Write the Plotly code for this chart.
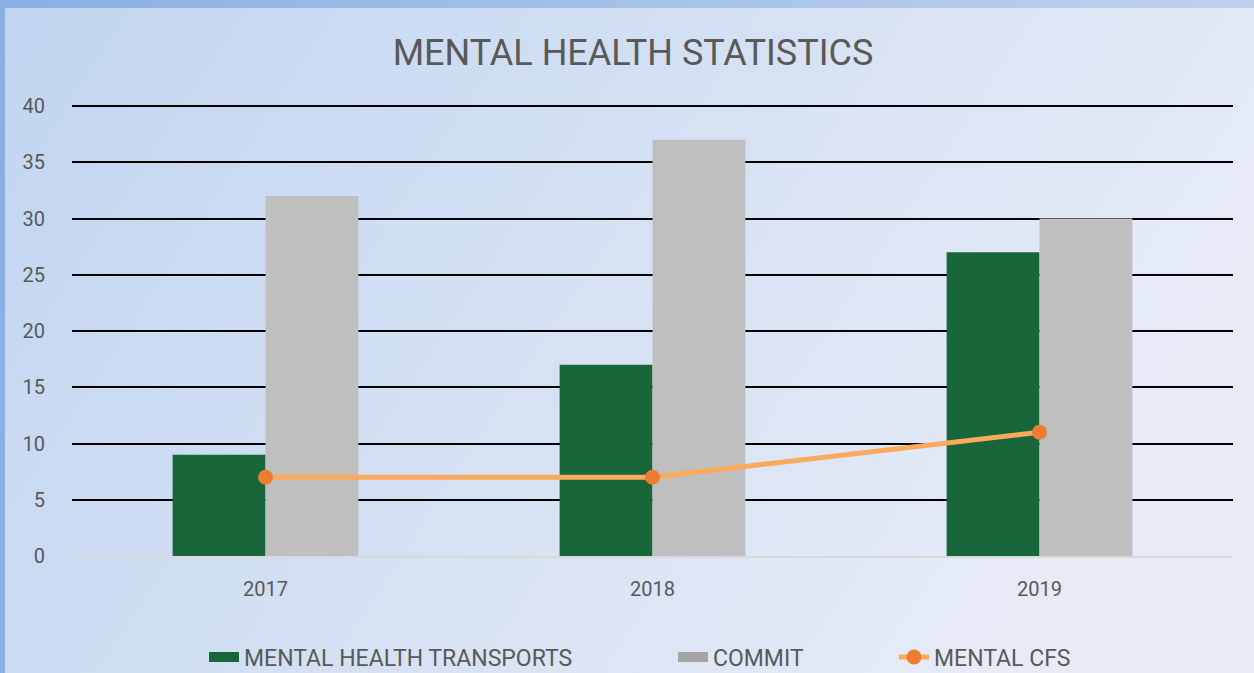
import base64
import plotly.graph_objects as go

years = ["2017", "2018", "2019"]
transports = [9, 17, 27]
commit = [32, 37, 30]
mental_cfs = [7, 7, 11]

W, H = 1254, 673
L, R, T, B = 72, 21, 105, 117
pw, ph = W - L - R, H - T - B

svg = f'''<svg xmlns="http://www.w3.org/2000/svg" width="{W}" height="{H}" viewBox="0 0 {W} {H}" preserveAspectRatio="none">
<defs>
<linearGradient id="o" x1="0" y1="0" x2="1" y2="0">
<stop offset="0" stop-color="#89afe3"/><stop offset="1" stop-color="#bfd2ec"/></linearGradient>
<linearGradient id="i" x1="0" y1="0" x2="1" y2="0.35">
<stop offset="0" stop-color="#c1d5f0"/><stop offset="0.5" stop-color="#d3e0f3"/><stop offset="1" stop-color="#e6ebf6"/></linearGradient>
</defs>
<rect x="0" y="0" width="{W}" height="{H}" fill="url(#o)"/>
<rect x="5" y="8" width="{W-5}" height="{H-8}" fill="url(#i)"/>
</svg>'''
src = "data:image/svg+xml;base64," + base64.b64encode(svg.encode()).decode()

font = "Roboto"
grey_txt = "#595959"
green = "#19663a"
grey_bar = "#bfbfbf"

fig = go.Figure()
fig.add_trace(go.Bar(x=years, y=transports, name="MENTAL HEALTH TRANSPORTS",
                     marker=dict(color=green, line=dict(width=0)),
                     showlegend=False, legendgroup="t"))
fig.add_trace(go.Bar(x=years, y=commit, name="COMMIT",
                     marker=dict(color=grey_bar, line=dict(width=0)),
                     showlegend=False, legendgroup="c"))
fig.add_trace(go.Scatter(x=years, y=mental_cfs, name="MENTAL CFS", mode="lines+markers",
                         line=dict(color="#fba95a", width=5),
                         marker=dict(color="#ed7d31", size=15),
                         legend="legend3"))
# legend entries (rectangular swatches like the original)
fig.add_trace(go.Scatter(x=[None], y=[None], name="MENTAL HEALTH TRANSPORTS", mode="lines",
                         line=dict(color=green, width=14), legendgroup="t", legend="legend"))
fig.add_trace(go.Scatter(x=[None], y=[None], name="COMMIT", mode="lines",
                         line=dict(color="#a5a5a5", width=14), legendgroup="c", legend="legend2"))

leg_y = -(657 - 556) / ph


def leg(text_x):
    return dict(orientation="h", x=(text_x - 40 - L) / pw, xanchor="left",
                y=leg_y, yanchor="middle",
                font=dict(size=23, color=grey_txt, family=font),
                bgcolor="rgba(0,0,0,0)")


fig.update_layout(
    width=W, height=H,
    margin=dict(l=L, r=R, t=T, b=B, autoexpand=False),
    paper_bgcolor="#c9daf1",
    plot_bgcolor="rgba(0,0,0,0)",
    barmode="group", bargap=0.52, bargroupgap=0,
    title=dict(text="MENTAL HEALTH STATISTICS", x=633 / W, xanchor="center",
               y=1 - 52 / H, yanchor="middle",
               font=dict(family=font, size=36, color=grey_txt)),
    font=dict(family=font, color=grey_txt),
    showlegend=True,
    legend=leg(244),
    legend2=leg(713),
    legend3=leg(934),
    images=[dict(source=src, xref="paper", yref="paper",
                 x=-L / pw, y=1 + T / ph, sizex=W / pw, sizey=H / ph,
                 xanchor="left", yanchor="top", sizing="stretch", layer="below")],
    xaxis=dict(showgrid=False, showline=True, linecolor="#d9d9d9", linewidth=2,
               ticks="outside", ticklen=14, tickcolor="rgba(0,0,0,0)",
               tickfont=dict(size=20, color=grey_txt), zeroline=False),
    yaxis=dict(range=[0, 40.1], tickvals=[0, 5, 10, 15, 20, 25, 30, 35, 40],
               showgrid=True, gridcolor="#000000", gridwidth=2,
               zeroline=False, showline=False,
               ticks="outside", ticklen=22, tickcolor="rgba(0,0,0,0)",
               tickfont=dict(size=20, color=grey_txt)),
)

fig.write_html("out.html", config={"displayModeBar": False},
               post_script="document.body.style.margin='0';document.body.style.overflow='hidden';")
